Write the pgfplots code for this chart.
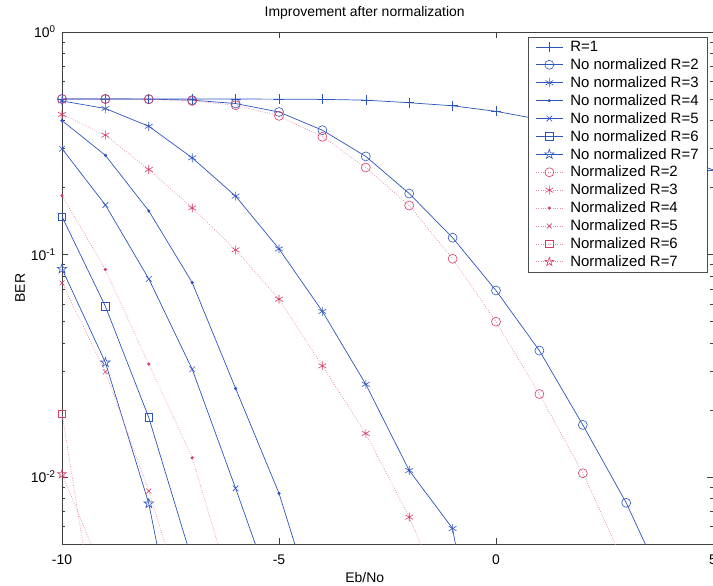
\documentclass[border=0pt]{standalone}
\usepackage{fontspec}
\setmainfont{Liberation Sans}
\usepackage{pgfplots}
\pgfplotsset{compat=1.18}
\usetikzlibrary{plotmarks}
\definecolor{mblue}{RGB}{45,85,190}
\definecolor{mred}{RGB}{215,60,100}
\pgfdeclareplotmark{pentagram}{%
  \pgfpathmoveto{\pgfpointpolar{90}{\pgfplotmarksize}}%
  \pgfpathlineto{\pgfpointpolar{126}{0.382*\pgfplotmarksize}}%
  \pgfpathlineto{\pgfpointpolar{162}{\pgfplotmarksize}}%
  \pgfpathlineto{\pgfpointpolar{198}{0.382*\pgfplotmarksize}}%
  \pgfpathlineto{\pgfpointpolar{234}{\pgfplotmarksize}}%
  \pgfpathlineto{\pgfpointpolar{270}{0.382*\pgfplotmarksize}}%
  \pgfpathlineto{\pgfpointpolar{306}{\pgfplotmarksize}}%
  \pgfpathlineto{\pgfpointpolar{342}{0.382*\pgfplotmarksize}}%
  \pgfpathlineto{\pgfpointpolar{18}{\pgfplotmarksize}}%
  \pgfpathlineto{\pgfpointpolar{54}{0.382*\pgfplotmarksize}}%
  \pgfpathclose
  \pgfusepathqstroke}
\pgfplotsset{
  nn/.style={mblue, solid, line width=0.7bp, mark options={solid, mblue, line width=0.6bp}},
  nr/.style={mred!60, dash pattern=on 0.8bp off 1.6bp, line width=0.7bp, mark options={solid, mred, line width=0.6bp}},
}
\begin{document}
\begin{tikzpicture}
\begin{axis}[
  scale only axis, width=651bp, height=512bp,
  ymode=log, xmin=-10, xmax=5, ymin=0.005, ymax=1,
  xtick={-10,-5,0,5}, xticklabels={-10,-5,0,5},
  ytick={0.01,0.1,1},
  yticklabels={10\textsuperscript{-2},10\textsuperscript{-1},10\textsuperscript{0}},
  minor ytick={0.006,0.007,0.008,0.009,0.02,0.03,0.04,0.05,0.06,0.07,0.08,0.09,0.2,0.3,0.4,0.5,0.6,0.7,0.8,0.9},
  tick align=inside, major tick length=6bp, minor tick length=3.5bp,
  axis line style={black!75, line width=0.5bp},
  tick style={black!75, line width=0.5bp},
  tick label style={font=\fontsize{14}{16}\selectfont},
  xticklabel style={yshift=-7bp},
  yticklabel style={xshift=-3bp},
  title={Improvement after normalization},
  title style={at={(axis description cs:0.465,1.025)}, anchor=center, font=\fontsize{14}{16}\selectfont},
  xlabel={Eb/No},
  xlabel style={at={(axis description cs:0.465,-0.066)}, anchor=center, font=\fontsize{14}{16}\selectfont},
  ylabel={BER},
  ylabel style={at={(axis description cs:-0.0645,0.5)}, anchor=center, font=\fontsize{14}{16}\selectfont},
  clip mode=individual,
  legend cell align=left,
  legend style={at={(0.992,0.99)}, anchor=north east, draw=black!70, fill=white,
    font=\fontsize{15}{16}\selectfont, row sep=1.6bp, inner ysep=2bp, inner xsep=7bp,
    /tikz/every odd column/.append style={column sep=5bp}},
  legend image code/.code={\draw[#1, mark indices={2}] plot coordinates {(0cm,0cm) (0.48cm,0cm) (0.96cm,0cm)};},
]
% R=1
\addplot[nn, mark=+, mark size=5bp] coordinates {(-10,0.5)(-9,0.5)(-8,0.5)(-7,0.5)(-6,0.5)(-5,0.499)(-4,0.498)(-3,0.494)(-2,0.481)(-1,0.466)(0,0.44)(1,0.405)(2,0.365)(3,0.325)(4,0.285)(5,0.24)};
\addlegendentry{R=1}
\addplot[nn, mark=o, mark size=4.5bp, mark indices={1,...,14}] coordinates {(-10,0.5)(-9,0.5)(-8,0.499)(-7,0.494)(-6,0.477)(-5,0.437)(-4,0.362)(-3,0.276)(-2,0.188)(-1,0.119)(0,0.0689)(1,0.037)(2,0.01715)(3,0.00766)(4,0.0029)};
\addlegendentry{No normalized R=2}
\addplot[nn, mark=asterisk, mark size=4.5bp, mark indices={1,...,10}] coordinates {(-10,0.49)(-9,0.453)(-8,0.377)(-7,0.272)(-6,0.183)(-5,0.106)(-4,0.0555)(-3,0.0261)(-2,0.0107)(-1,0.00587)(0,0.0005)};
\addlegendentry{No normalized R=3}
\addplot[nn, mark=*, mark size=1.3bp, mark indices={1,...,6}] coordinates {(-10,0.40)(-9,0.279)(-8,0.157)(-7,0.0748)(-6,0.025)(-5,0.00845)(-4,0.002)};
\addlegendentry{No normalized R=4}
\addplot[nn, mark=x, mark size=4bp, mark indices={1,...,5}] coordinates {(-10,0.299)(-9,0.167)(-8,0.0777)(-7,0.0305)(-6,0.0089)(-5,0.0025)};
\addlegendentry{No normalized R=5}
\addplot[nn, mark=square, mark size=3.8bp, mark indices={1,...,3}] coordinates {(-10,0.148)(-9,0.0585)(-8,0.0185)(-7,0.0042)};
\addlegendentry{No normalized R=6}
\addplot[nn, mark=pentagram, mark size=5bp, mark indices={1,...,3}] coordinates {(-10,0.0862)(-9,0.0327)(-8,0.0076)(-7,0.0008)};
\addlegendentry{No normalized R=7}
\addplot[nr, mark=o, mark size=4.5bp, mark indices={1,...,13}] coordinates {(-10,0.5)(-9,0.5)(-8,0.498)(-7,0.49)(-6,0.469)(-5,0.42)(-4,0.338)(-3,0.246)(-2,0.166)(-1,0.0957)(0,0.0499)(1,0.0236)(2,0.0104)(3,0.0039)};
\addlegendentry{Normalized R=2}
\addplot[nr, mark=asterisk, mark size=4.5bp, mark indices={1,...,9}] coordinates {(-10,0.426)(-9,0.344)(-8,0.241)(-7,0.162)(-6,0.105)(-5,0.063)(-4,0.0316)(-3,0.0157)(-2,0.0066)(-1,0.0023)};
\addlegendentry{Normalized R=3}
\addplot[nr, mark=*, mark size=1.3bp, mark indices={1,...,4}] coordinates {(-10,0.184)(-9,0.0856)(-8,0.0322)(-7,0.0122)(-6,0.0027)};
\addlegendentry{Normalized R=4}
\addplot[nr, mark=x, mark size=3.5bp, mark indices={1,...,3}] coordinates {(-10,0.0745)(-9,0.0297)(-8,0.00865)(-7,0.002)};
\addlegendentry{Normalized R=5}
\addplot[nr, mark=square, mark size=3.8bp, mark indices={1}] coordinates {(-10,0.0192)(-9,0.0012)};
\addlegendentry{Normalized R=6}
\addplot[nr, mark=pentagram, mark size=4.5bp, mark indices={1}] coordinates {(-10,0.0103)(-9,0.0035)};
\addlegendentry{Normalized R=7}
\coordinate (bl) at (rel axis cs:0,0);
\coordinate (tr) at (rel axis cs:1,1);
\end{axis}
\pgfresetboundingbox
\useasboundingbox ([shift={(-62bp,-42bp)}]bl) rectangle ([shift={(0bp,32bp)}]tr);
\end{tikzpicture}
\end{document}
